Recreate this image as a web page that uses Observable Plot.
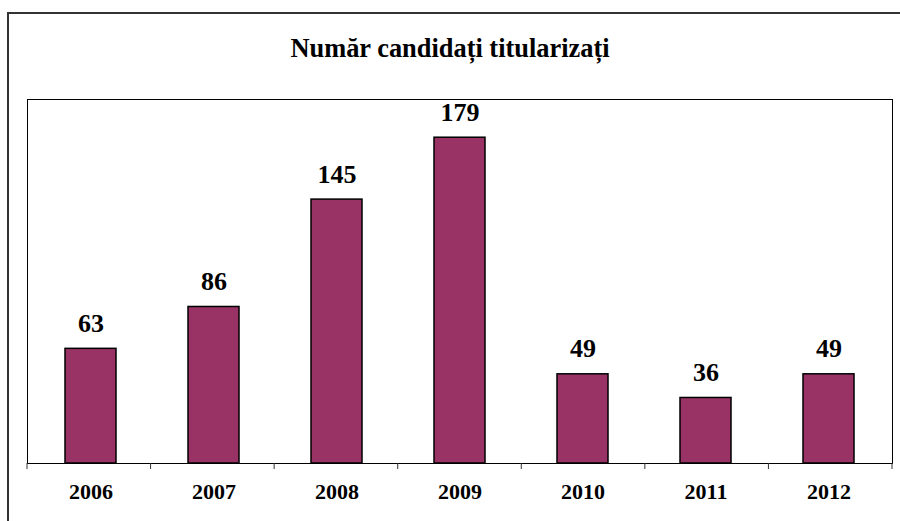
<!DOCTYPE html>
<html>
<head>
<meta charset="utf-8">
<script src="https://cdn.jsdelivr.net/npm/d3@7"></script>
<script src="https://cdn.jsdelivr.net/npm/@observablehq/plot@0.6"></script>
<style>
  html, body { margin: 0; padding: 0; background: #fff; }
  body { width: 900px; height: 521px; position: relative; overflow: hidden; font-family: "Liberation Serif", "Times New Roman", serif; }
  #border { position: absolute; left: 7px; top: 12px; width: 900px; height: 530px; border-left: 2px solid #333; border-top: 2px solid #333; box-sizing: border-box; }
  #title { position: absolute; left: 0; top: 0; width: 900px; height: 80px; text-align: center; font-family: "Liberation Serif", serif; font-weight: bold; font-size: 26.4px; line-height: 26px; padding-top: 35px; box-sizing: border-box; }
  #chart { position: absolute; left: 0; top: 80px; }
</style>
</head>
<body>
<div id="border"></div>
<div id="title">Număr candidați titularizați</div>
<div id="chart"></div>
<script>
const years = ["2006", "2007", "2008", "2009", "2010", "2011", "2012"];
const counts = [63, 86, 145, 179, 49, 36, 49];
const data = years.map((y, i) => ({year: y, value: counts[i]}));

const boundaryTicks = (index, scales, values, dims) => {
  const g = d3.create("svg:g");
  const n = years.length;
  const step = (dims.width - dims.marginLeft - dims.marginRight) / n;
  const y0 = dims.height - dims.marginBottom;
  for (let i = 0; i <= n; i++) {
    const x = dims.marginLeft + i * step;
    g.append("line").attr("x1", x).attr("x2", x).attr("y1", y0).attr("y2", y0 + 6)
      .attr("stroke", "#333").attr("stroke-width", 1);
  }
  return g.node();
};

const chart = Plot.plot({
  width: 900,
  height: 441,
  marginLeft: 27,
  marginRight: 8,
  marginTop: 19,
  marginBottom: 58,
  style: {fontFamily: "Liberation Serif, Times New Roman, serif", background: "transparent"},
  x: {domain: years, paddingInner: 0.587, paddingOuter: 0.2935, label: null},
  y: {domain: [0, 200], axis: null},
  marks: [
    Plot.frame({stroke: "#000", strokeWidth: 1}),
    Plot.barY(data, {x: "year", y: "value", fill: "#993366", stroke: "#000", strokeWidth: 1.5}),
    Plot.text(data, {x: "year", y: "value", text: d => String(d.value), dy: -17, lineAnchor: "bottom",
      fontSize: 26, fontWeight: "bold", fill: "#000", fontFamily: "Liberation Serif"}),
    Plot.axisX({tickSize: 0, tickPadding: 20, fontSize: 22, fontWeight: "bold", label: null, color: "#000", fontFamily: "Liberation Serif"}),
    boundaryTicks
  ]
});
document.getElementById("chart").appendChild(chart);
</script>
</body>
</html>
